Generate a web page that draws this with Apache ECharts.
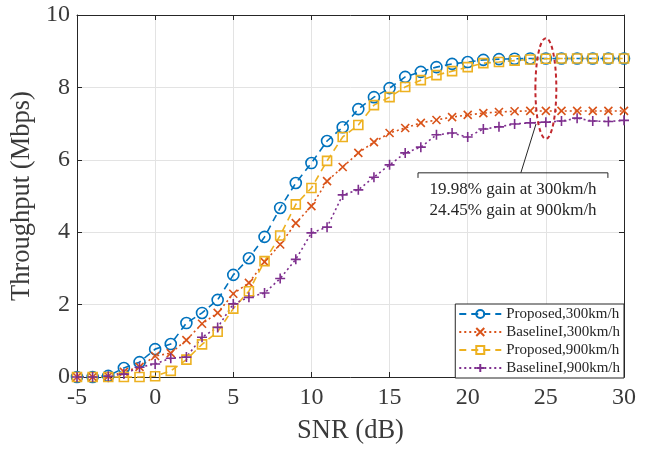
<!DOCTYPE html>
<html>
<head>
<meta charset="utf-8">
<script src="https://cdn.jsdelivr.net/npm/echarts@6/dist/echarts.min.js"></script>
<style>html,body{margin:0;padding:0;background:#fff}#c{width:650px;height:450px}</style>
</head>
<body>
<div id="c"></div>
<script>
var snr = [-5,-4,-3,-2,-1,0,1,2,3,4,5,6,7,8,9,10,11,12,13,14,15,16,17,18,19,20,21,22,23,24,25,26,27,28,29,30];
var proposed300 = [0,0,0.03,0.25,0.41,0.77,0.91,1.49,1.77,2.13,2.82,3.28,3.87,4.67,5.36,5.91,6.52,6.9,7.4,7.73,7.98,8.29,8.43,8.56,8.65,8.7,8.76,8.78,8.79,8.8,8.8,8.8,8.8,8.8,8.8,8.8];
var baseline300 = [0,0,0.02,0.14,0.28,0.58,0.66,1.02,1.47,1.77,2.3,2.6,3.18,3.66,4.25,4.72,5.41,5.8,6.19,6.49,6.74,6.88,7.02,7.1,7.18,7.24,7.29,7.32,7.34,7.35,7.35,7.35,7.35,7.35,7.35,7.35];
var proposed900 = [0,0,0,0,0,0.02,0.17,0.48,0.9,1.25,1.89,2.37,3.2,3.91,4.77,5.22,5.97,6.63,6.96,7.51,7.73,8.01,8.2,8.34,8.45,8.56,8.67,8.7,8.74,8.77,8.79,8.8,8.8,8.8,8.8,8.8];
var baseline900 = [0,0,0.02,0.08,0.27,0.36,0.52,0.55,1.1,1.37,2.02,2.2,2.32,2.72,3.25,3.98,4.14,5.03,5.17,5.52,5.86,6.19,6.35,6.69,6.74,6.63,6.85,6.91,6.99,7.02,7.04,7.07,7.15,7.07,7.06,7.09];
var seriesNames = ['Proposed,300km/h','BaselineI,300km/h','Proposed,900km/h','BaselineI,900km/h'];
var annotationLines = ['19.98% gain at 300km/h','24.45% gain at 900km/h'];
var xTicks = {min:-5, max:30, step:5};
var yTicks = {min:0, max:10, step:2};

var FONT = '"Liberation Serif","Times New Roman",serif';
var AX = '#262626';
var LBL = '#3a3a3a';
function pairs(v){ return snr.map(function(x,i){return [x, v[i]];}); }

var chart = echarts.init(document.getElementById('c'), null, {renderer:'canvas'});
function mk(name, data, color, symbol, size, dash){
  return {
    name: name, type:'line', data: pairs(data),
    symbol: symbol, symbolSize: size,
    lineStyle: {color: color, width: 1.6, type: dash},
    itemStyle: {color: 'rgba(255,255,255,0)', borderColor: color, borderWidth: 1.6},
    emphasis: {disabled: true},
    clip: false
  };
}
var crossPath = 'path://M0,0L10,10M10,0L0,10';
var plusPath = 'path://M5,0L5,10M0,5L10,5';

var option = {
  animation: false,
  backgroundColor: '#fff',
  textStyle: {fontFamily: FONT},
  grid: {left: 77, right: 26, top: 15, bottom: 73, containLabel: false},
  legend: {
    orient: 'vertical', right: 26, bottom: 72,
    backgroundColor: '#fff', borderColor: AX, borderWidth: 1,
    padding: [2, 4, 2, 3], itemGap: 2, itemWidth: 42, itemHeight: 10,
    textStyle: {fontFamily: FONT, fontSize: 15, color: AX, lineHeight: 16},
    data: seriesNames
  },
  xAxis: [{
    type:'value', min: xTicks.min, max: xTicks.max, interval: xTicks.step,
    name: 'SNR (dB)', nameLocation: 'middle', nameGap: 41,
    nameTextStyle: {fontFamily: FONT, fontSize: 26.5, color: LBL},
    axisLine: {show:true, onZero:false, lineStyle:{color: AX, width: 1}},
    axisTick: {show:true, inside:true, length:5, lineStyle:{color:AX}},
    axisLabel: {fontFamily: FONT, fontSize: 24, color: LBL, margin: 9},
    splitLine: {show:true, lineStyle:{color:'#e3e3e3', width:1}}
  },{
    type:'value', position:'top', min: xTicks.min, max: xTicks.max, interval: xTicks.step,
    axisLine: {show:true, onZero:false, lineStyle:{color: AX, width: 1}},
    axisTick: {show:true, inside:true, length:5, lineStyle:{color:AX}},
    axisLabel: {show:false}, splitLine: {show:false}
  }],
  yAxis: [{
    type:'value', min: yTicks.min, max: yTicks.max, interval: yTicks.step,
    name: 'Throughput (Mbps)', nameLocation: 'middle', nameGap: 33, nameRotate: 90,
    nameTextStyle: {fontFamily: FONT, fontSize: 26.5, color: LBL},
    axisLine: {show:true, onZero:false, lineStyle:{color: AX, width: 1}},
    axisTick: {show:true, inside:true, length:5, lineStyle:{color:AX}},
    axisLabel: {fontFamily: FONT, fontSize: 24, color: LBL, margin: 7},
    splitLine: {show:true, lineStyle:{color:'#e3e3e3', width:1}}
  },{
    type:'value', position:'right', min: yTicks.min, max: yTicks.max, interval: yTicks.step,
    axisLine: {show:true, onZero:false, lineStyle:{color: AX, width: 1}},
    axisTick: {show:true, inside:true, length:5, lineStyle:{color:AX}},
    axisLabel: {show:false}, splitLine: {show:false}
  }],
  series: [
    mk(seriesNames[0], proposed300, '#0072BD', 'circle', 11, [7,5]),
    mk(seriesNames[1], baseline300, '#D95319', crossPath, 8, [2,3]),
    mk(seriesNames[2], proposed900, '#EDB120', 'rect', 9, [7,5]),
    mk(seriesNames[3], baseline900, '#7E2F8E', plusPath, 10, [2,3])
  ]
};
chart.setOption(option);

function px(x, y){ return chart.convertToPixel({xAxisIndex:0, yAxisIndex:0}, [x, y]); }
var eC = px(25, 7.97), eT = px(25, 9.36), eR = px(25.67, 7.97);
var bL = px(16.82, 5.64), bR = px(28.97, 5.64), bLd = px(16.82, 5.5);
var aA = px(23.4, 5.64), aB = px(24.37, 6.99);
var tC1 = px(22.9, 5.17), tC2 = px(22.9, 4.61);
chart.setOption({
  graphic: [
    {type:'ellipse', z: 100, shape:{cx:eC[0], cy:eC[1], rx: eR[0]-eC[0], ry: eC[1]-eT[1]},
     style:{fill:'none', stroke:'#C1272D', lineWidth:2, lineDash:[4,3]}},
    {type:'polyline', z: 100, shape:{points:[[bL[0], bLd[1]],[bL[0], bL[1]],[bR[0], bR[1]],[bR[0], bLd[1]]]},
     style:{fill:'none', stroke: AX, lineWidth:1}},
    {type:'line', z: 100, shape:{x1:aA[0], y1:aA[1], x2:aB[0], y2:aB[1]}, style:{stroke: AX, lineWidth:1}},
    {type:'text', z: 100, x: tC1[0], y: tC1[1], style:{text: annotationLines[0], font: '17px ' + FONT, fill: AX, align:'center', verticalAlign:'middle'}},
    {type:'text', z: 100, x: tC2[0], y: tC2[1], style:{text: annotationLines[1], font: '17px ' + FONT, fill: AX, align:'center', verticalAlign:'middle'}}
  ]
});
</script>
</body>
</html>
